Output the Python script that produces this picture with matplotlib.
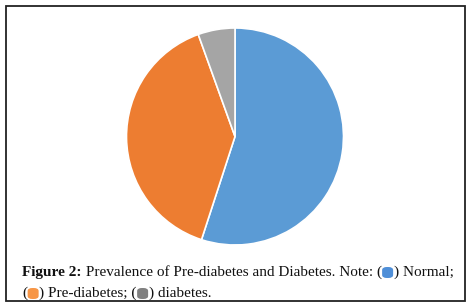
import matplotlib
matplotlib.use("Agg")
import matplotlib.pyplot as plt
from matplotlib.patches import Rectangle, FancyBboxPatch

labels = ["Normal", "Pre-diabetes", "diabetes"]
shares = [55.0, 39.5, 5.5]
colors = ["#5B9BD5", "#ED7D31", "#A5A5A5"]
note_colors = ["#4F8FD8", "#F79646", "#808080"]

W, H = 474, 306
fig = plt.figure(figsize=(W / 100, H / 100), dpi=100)

# frame round the whole figure
fig.patches.append(Rectangle((5.5 / W, 5.5 / H), 459 / W, 295 / H,
                             transform=fig.transFigure, fill=False,
                             edgecolor="#222222", linewidth=1.3))

# pie
cx, cy, r = 235, 306 - 136.5, 108.5
ax = fig.add_axes([(cx - r) / W, (cy - r) / H, 2 * r / W, 2 * r / H])
ax.pie(shares, colors=colors, startangle=90, counterclock=False,
       wedgeprops=dict(edgecolor="white", linewidth=1.2))
ax.set_xlim(-1, 1)
ax.set_ylim(-1, 1)
ax.set_aspect("auto")
ax.axis("off")

# caption, laid out piece by piece
fs = 11.0
family = "Liberation Serif"
renderer = fig.canvas.get_renderer()

caption = [
    [("Figure 2:", "bold"), (" Prevalence of Pre-diabetes and Diabetes. Note: (", "normal"),
     ("box", 0), (") Normal;", "normal")],
    [("(", "normal"), ("box", 1), (") Pre-diabetes; (", "normal"), ("box", 2),
     (") diabetes.", "normal")],
]
baselines = [H - 276, H - 297]

for line, yb in zip(caption, baselines):
    x = 22
    for a, b in line:
        if a == "box":
            bw, bh = 11, 11
            fig.patches.append(FancyBboxPatch(((x + 0.5) / W, (yb - 2) / H), bw / W, bh / H,
                                              boxstyle="round,pad=0,rounding_size=0.01",
                                              transform=fig.transFigure,
                                              facecolor=note_colors[b], edgecolor="none"))
            x += bw + 1
        else:
            t = fig.text(x / W, yb / H, a, fontsize=fs, family=family, weight=b,
                         ha="left", va="baseline", color="#111111")
            x += t.get_window_extent(renderer).width

fig.savefig("out.png", dpi=100)
